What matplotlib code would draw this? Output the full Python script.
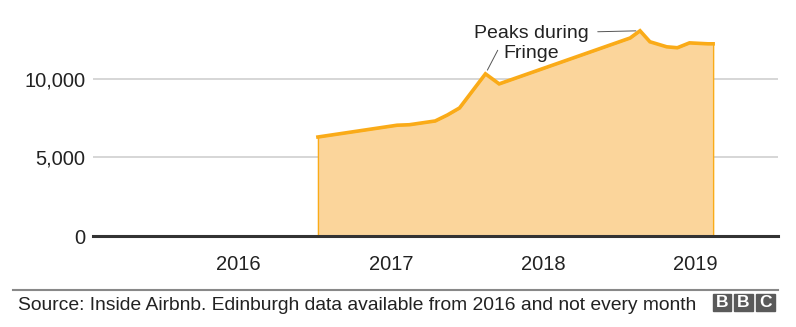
import matplotlib.pyplot as plt
from matplotlib.patches import Rectangle
from matplotlib.lines import Line2D

# listings over time (decimal year)
dates = [2016.52, 2017.04, 2017.12, 2017.29, 2017.37, 2017.45, 2017.62, 2017.71,
         2018.57, 2018.635, 2018.70, 2018.81, 2018.88, 2018.96, 2019.08, 2019.115]
listings = [6300, 7050, 7080, 7320, 7700, 8150, 10320, 9680,
            12600, 13060, 12360, 12040, 11980, 12290, 12230, 12230]
year_ticks = [2016, 2017, 2018, 2019]
y_ticks = [0, 5000, 10000]
y_labels = ["0", "5,000", "10,000"]

plt.rcParams['font.family'] = ['Liberation Sans', 'DejaVu Sans']

fig = plt.figure(figsize=(7.96, 3.27), dpi=100)
ax = fig.add_axes([93/796, 1-236/327, (778-93)/796, 220/327])

ax.fill_between(dates, listings, 0, color="#fbd59b", edgecolor="#faab18", linewidth=1)
ax.plot(dates, listings, color="#faab18", linewidth=2.6, solid_joinstyle="miter")

ax.set_xlim(2015.043, 2019.541)
ax.set_ylim(0, 14000)
ax.set_yticks(y_ticks)
ax.set_yticklabels(y_labels)
ax.set_xticks(year_ticks)
ax.set_xticklabels([str(y) for y in year_ticks])
ax.tick_params(axis="both", length=0, labelsize=14.5, colors="#222222")
ax.tick_params(axis="y", pad=5.5)
ax.tick_params(axis="x", pad=14)

ax.grid(axis="y", color="#cbcbcb", linewidth=1.1)
ax.set_axisbelow(True)
for s in ax.spines.values():
    s.set_visible(False)
ax.axhline(0, color="#333333", linewidth=2.2, zorder=5, clip_on=False)

# annotation
ax.text(2017.92, 12250, "Peaks during\nFringe", ha="center", va="center",
        fontsize=14, color="#222222", linespacing=1.25, multialignment="center")
i1 = listings.index(max(listings))
i2 = listings.index(max(listings[:8]))
ax.annotate("", xy=(dates[i1], listings[i1]), xytext=(2018.339, 12994),
            arrowprops=dict(arrowstyle="-", color="#555555", lw=0.7, shrinkB=3))
ax.annotate("", xy=(dates[i2], listings[i2]), xytext=(2017.709, 11975),
            arrowprops=dict(arrowstyle="-", color="#555555", lw=0.7, shrinkB=3))

# footer
fig.add_artist(Line2D([13/796, 778/796], [1-289.5/327, 1-289.5/327], color="#888888", linewidth=1.5))
fig.text(18/796, 1-306/327, "Source: Inside Airbnb. Edinburgh data available from 2016 and not every month",
         fontsize=13.9, color="#222222", va="center", ha="left")
for k, letter in enumerate("BBC"):
    x0 = 712.5 + k*21.8
    fig.add_artist(Rectangle((x0/796, 1-311/327), 18.5/796, 17/327, color="#5a5a5a",
                             transform=fig.transFigure))
    fig.text((x0+9.25)/796, 1-302.5/327, letter, color="white", fontsize=12.5,
             fontweight="bold", ha="center", va="center")

fig.savefig("out.png", dpi=100)
